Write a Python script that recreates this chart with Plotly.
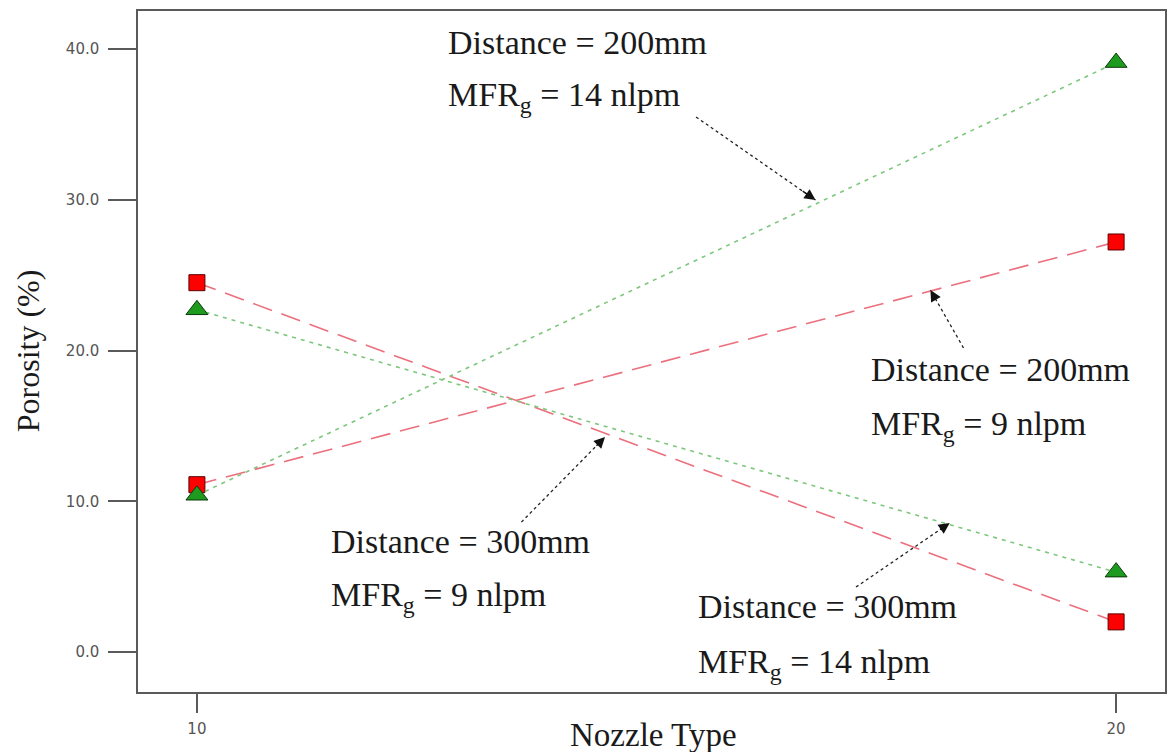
import plotly.graph_objects as go

# ---- data ----
nozzle = [10, 20]
red_200mm_9nlpm = [11.1, 27.2]
red_300mm_9nlpm = [24.5, 2.0]
green_200mm_14nlpm = [10.4, 39.1]
green_300mm_14nlpm = [22.7, 5.3]
y_ticks = [0, 10, 20, 30, 40]
y_tick_labels = ["0.0", "10.0", "20.0", "30.0", "40.0"]
x_ticks = [10, 20]
x_tick_labels = ["10", "20"]

RED_LINE = "#ec6f7d"
GREEN_LINE = "#7cc77c"
RED_FILL = "#ff0000"
GREEN_FILL = "#1e9a1e"

fig = go.Figure()


def red_trace(vals):
    return go.Scatter(
        x=nozzle, y=vals, mode="lines+markers",
        line=dict(color=RED_LINE, width=1.6, dash="20px,10px"),
        marker=dict(symbol="square", size=16, color=RED_FILL,
                    line=dict(color="#5a0000", width=1)),
        showlegend=False, hoverinfo="x+y")


def green_trace(vals):
    return go.Scatter(
        x=nozzle, y=vals, mode="lines+markers",
        line=dict(color=GREEN_LINE, width=1.6, dash="4px,5px"),
        marker=dict(symbol="triangle-up", size=19, color=GREEN_FILL,
                    line=dict(color="#0a3a0a", width=1)),
        showlegend=False, hoverinfo="x+y")


fig.add_trace(red_trace(red_200mm_9nlpm))
fig.add_trace(red_trace(red_300mm_9nlpm))
fig.add_trace(green_trace(green_200mm_14nlpm))
fig.add_trace(green_trace(green_300mm_14nlpm))

SERIF = "Liberation Serif, Times New Roman, serif"
TXT = dict(family=SERIF, size=34, color="#1a1a1a")
EQ = " = "

labels = [
    # (x_left, y_center_line1, y_center_line2, distance, flow)
    (12.71, 40.46, 36.82, "Distance" + EQ + "200mm", "MFR<sub>g</sub>" + EQ + "14 nlpm"),
    (11.44, 7.36, 3.65, "Distance" + EQ + "300mm", "MFR<sub>g</sub>" + EQ + "9 nlpm"),
    (15.43, 2.99, -0.80, "Distance" + EQ + "300mm", "MFR<sub>g</sub>" + EQ + "14 nlpm"),
    (17.31, 18.77, 14.99, "Distance" + EQ + "200mm", "MFR<sub>g</sub>" + EQ + "9 nlpm"),
]
annotations = []
for xl, y1, y2, t1, t2 in labels:
    for yy, tt in ((y1, t1), (y2, t2)):
        annotations.append(dict(x=xl, y=yy, xref="x", yref="y", text=tt,
                                showarrow=False, xanchor="left",
                                yanchor="middle", font=TXT))

arrows = [
    # (tail_x, tail_y, head_x, head_y)
    (15.43, 35.49, 16.73, 29.98),
    (13.53, 8.62, 14.44, 14.26),
    (17.17, 4.31, 18.19, 8.56),
    (18.34, 20.17, 17.98, 24.01),
]
shapes = []
for tx, ty, hx, hy in arrows:
    shapes.append(dict(type="line", xref="x", yref="y", x0=tx, y0=ty,
                       x1=hx, y1=hy, line=dict(color="#222222", width=1.3,
                                               dash="dot")))
    annotations.append(dict(x=hx, y=hy, xref="x", yref="y",
                            ax=hx + 0.12 * (tx - hx), ay=hy + 0.12 * (ty - hy),
                            axref="x", ayref="y", text="", showarrow=True,
                            arrowhead=2, arrowsize=1.7, arrowwidth=1.3,
                            arrowcolor="#111111", standoff=0))

# axis titles
annotations.append(dict(x=0.5024, y=-0.063, xref="paper", yref="paper",
                        text="Nozzle Type", showarrow=False,
                        font=dict(family=SERIF, size=33, color="#1a1a1a"),
                        xanchor="center", yanchor="middle"))
annotations.append(dict(x=-0.1069, y=0.5007, xref="paper", yref="paper",
                        text="Porosity (%)", showarrow=False, textangle=-90,
                        font=dict(family=SERIF, size=32, color="#1a1a1a"),
                        xanchor="center", yanchor="middle"))

AX_COLOR = "#5a5a5a"
TICK_FONT = dict(family="DejaVu Sans, Arial, sans-serif", size=15,
                 color="#555555")

fig.update_layout(
    width=1175, height=752,
    margin=dict(l=138, r=8, t=11, b=60),
    paper_bgcolor="white", plot_bgcolor="white",
    annotations=annotations, shapes=shapes,
    xaxis=dict(range=[9.359, 20.532], tickvals=x_ticks, ticktext=x_tick_labels,
               showgrid=False, zeroline=False, showline=True, mirror=True,
               linecolor=AX_COLOR, linewidth=1.5, ticks="outside", ticklen=19,
               tickwidth=1.5, tickcolor=AX_COLOR, tickfont=TICK_FONT,
               ticklabelstandoff=3),
    yaxis=dict(range=[-2.65, 42.52], tickvals=y_ticks, ticktext=y_tick_labels,
               showgrid=False, zeroline=False, showline=True, mirror=True,
               linecolor=AX_COLOR, linewidth=1.5, ticks="outside", ticklen=28,
               tickwidth=1.5, tickcolor=AX_COLOR, tickfont=TICK_FONT,
               ticklabelstandoff=6),
)

fig.write_html(
    "out.html",
    config={"displayModeBar": False},
    post_script="document.body.style.margin='0';"
                "document.body.style.overflow='hidden';",
)
